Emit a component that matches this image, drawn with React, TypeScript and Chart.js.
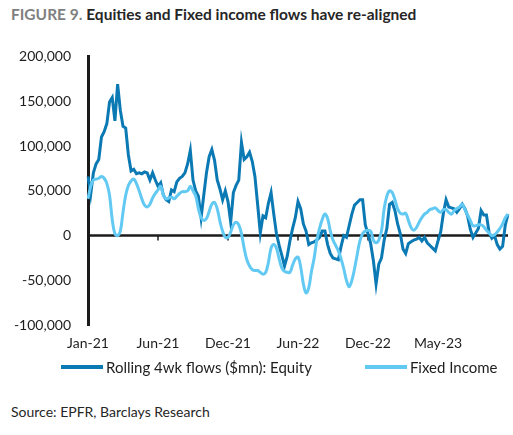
import React, { useEffect, useRef } from "react";
import { Chart, registerables } from "chart.js";

Chart.register(...registerables);

const equityK: number[] = [
  66, 46, 70, 80, 85, 110, 116, 125, 149, 154, 128, 169, 140, 122, 120, 90, 72, 74, 69, 70,
  69, 71, 70, 62, 70, 62, 55, 59, 45, 40, 38, 51, 49, 60, 64, 66, 70, 80, 95, 62,
  50, 44, 20, 45, 70, 88, 96, 84, 62, 52, 40, 50, 38, 15, 48, 56, 62, 104, 85, 88,
  93, 83, 66, 35, 3, 22, 20, 36, 48, 24, 2, -11, -22, -34, -23, -6, 8, 20, 38, 30,
  13, 5, -10, -8, -7, -5, -2, 5, 5, -10, -20, -25, -26, -27, -12, 0, -2, 11, 24, 34,
  37, 40, 40, 12, 2, -9, -28, -54, -32, -25, -5, 8, 35, 37, 28, 13, 2, -15, -20, -9,
  -7, -5, -4, -2, -6, -2, -8, -11, -14, -17, -6, 4, 25, 40, 32, 31, 30, 26, 30, 35,
  30, 22, 7, -2, 3, 8, 28, 23, 23, 3, -3, 0, -10, -15, -12, 12, 24,
];

const fixedIncomeK: number[] = [
  41, 55, 62, 63, 64, 66, 64, 58, 45, 18, 2, 0, 5, 26, 45, 56, 61, 63, 58, 50,
  41, 34, 32, 35, 42, 47, 51, 55, 45, 41, 42, 43, 41, 44, 47, 49, 49, 50, 55, 50,
  44, 30, 20, 17, 19, 27, 35, 37, 30, 16, 5, -2, -2, 4, 12, 15, 12, 2, -14, -27,
  -34, -38, -39, -39, -41, -43, -41, -30, -14, -10, -14, -26, -36, -40, -41, -41, -33, -26, -24, -35,
  -54, -64, -58, -40, -25, -5, 8, 18, 24, 19, 5, -5, -11, -17, -26, -37, -50, -57, -50, -37,
  -21, -6, 2, 5, 6, 5, -5, -8, -5, 5, 30, 44, 50, 48, 40, 30, 25, 24, 25, 17,
  9, 6, 9, 15, 20, 24, 26, 29, 30, 31, 28, 26, 29, 29, 26, 24, 28, 30, 32, 35,
  29, 23, 17, 11, 11, 12, 12, 10, 6, 3, 0, 1, 4, 8, 13, 20, 24,
];

const UNIT = 1000; // values above are read in thousands of $mn

const tickLabels: string[] = ["Jan-21", "Jun-21", "Dec-21", "Jun-22", "Dec-22", "May-23"];
const tickIndex: number[] = [0, 26, 52, 78, 104, 130];

const categories: string[] = equityK.map((_, i) => `W${i + 1}`);

const EQUITY_COLOR = "#0b79b3";
const FI_COLOR = "#62c9f3";
const AXIS_COLOR = "#1b1b1b";
const FONT = "Lato, 'Open Sans', sans-serif";

const zeroLinePlugin = {
  id: "zeroLine",
  beforeDatasetsDraw(chart: any) {
    const { ctx, chartArea, scales } = chart;
    const y0 = scales.y.getPixelForValue(0);
    ctx.save();
    ctx.strokeStyle = AXIS_COLOR;
    ctx.lineWidth = 2.5;
    ctx.beginPath();
    ctx.moveTo(chartArea.left, y0);
    ctx.lineTo(chartArea.right, y0);
    ctx.stroke();
    ctx.lineWidth = 1.5;
    tickIndex.forEach((idx) => {
      if (idx === 0) return;
      const x = scales.x.getPixelForValue(idx);
      ctx.beginPath();
      ctx.moveTo(x, y0);
      ctx.lineTo(x, y0 + 5);
      ctx.stroke();
    });
    ctx.restore();
  },
};

export default function App() {
  const ref = useRef<HTMLCanvasElement | null>(null);

  useEffect(() => {
    if (!ref.current) return;
    const chart = new Chart(ref.current, {
      type: "line",
      data: {
        labels: categories,
        datasets: [
          {
            label: "Rolling 4wk flows ($mn): Equity",
            data: equityK.map((v) => v * UNIT),
            borderColor: EQUITY_COLOR,
            borderWidth: 3,
            pointRadius: 0,
            tension: 0,
            order: 1,
          },
          {
            label: "Fixed Income",
            data: fixedIncomeK.map((v) => v * UNIT),
            borderColor: FI_COLOR,
            borderWidth: 3,
            pointRadius: 0,
            tension: 0.4,
            order: 0,
          },
        ],
      },
      options: {
        animation: false,
        responsive: false,
        maintainAspectRatio: false,
        layout: { padding: { top: 18, left: 0, right: 5, bottom: 0 } },
        plugins: { legend: { display: false }, tooltip: { enabled: false } },
        scales: {
          x: {
            type: "category",
            offset: false,
            grid: { display: false, drawTicks: false },
            border: { display: false },
            afterBuildTicks: (scale: any) => {
              scale.ticks = tickIndex.map((v) => ({ value: v }));
            },
            ticks: {
              autoSkip: false,
              maxRotation: 0,
              padding: 10,
              color: "#1e1e1e",
              font: { family: FONT, size: 14 },
              callback: (_v: any, i: number) => tickLabels[i],
            },
          },
          y: {
            min: -100000,
            max: 200000,
            grid: { display: false, drawTicks: false },
            border: { display: true, color: AXIS_COLOR, width: 3 },
            afterFit: (scale: any) => {
              scale.width = 88;
            },
            ticks: {
              stepSize: 50000,
              padding: 17,
              color: "#1e1e1e",
              font: { family: FONT, size: 14 },
              callback: (v: any) => Number(v).toLocaleString("en-US"),
            },
          },
        },
      },
      plugins: [zeroLinePlugin],
    });
    return () => chart.destroy();
  }, []);

  return (
    <div
      style={{
        position: "absolute",
        left: 0,
        top: 0,
        width: 513,
        height: 435,
        background: "#fff",
        fontFamily: FONT,
        color: "#1e1e1e",
      }}
    >
      <div
        style={{
          position: "absolute",
          left: 11,
          top: 5,
          fontSize: 15.5,
          fontWeight: 700,
          whiteSpace: "nowrap",
          color: "#262626",
        }}
      >
        <span style={{ color: "#808080" }}>FIGURE 9.</span> Equities and Fixed income flows have re-aligned
      </div>
      <canvas
        ref={ref}
        width={513}
        height={331}
        style={{ position: "absolute", left: 0, top: 31, width: 513, height: 331 }}
      />
      <div
        style={{
          position: "absolute",
          left: 61,
          top: 357,
          fontSize: 15,
          whiteSpace: "nowrap",
          display: "flex",
          alignItems: "center",
          height: 20,
        }}
      >
        <span style={{ display: "inline-block", width: 42, height: 4, background: EQUITY_COLOR, marginRight: 3 }} />
        <span>Rolling 4wk flows ($mn): Equity</span>
        <span style={{ display: "inline-block", width: 42, height: 4, background: FI_COLOR, marginLeft: 53, marginRight: 3 }} />
        <span>Fixed Income</span>
      </div>
      <div
        style={{
          position: "absolute",
          left: 11,
          top: 403,
          fontSize: 14,
          whiteSpace: "nowrap",
          color: "#262626",
        }}
      >
        Source: EPFR, Barclays Research
      </div>
    </div>
  );
}
